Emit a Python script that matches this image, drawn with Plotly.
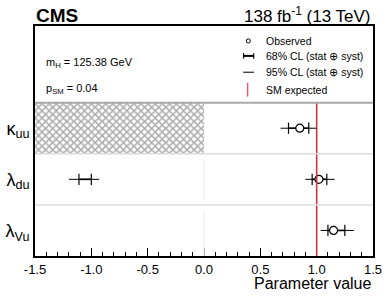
import plotly.graph_objects as go

# ---- data ----
param_labels = ["κ<sub>uu</sub>", "λ<sub>du</sub>", "λ<sub>Vu</sub>"]
row_pos = [2, 1, 0]
best_fit = [0.85, 1.02, 1.15]
lo68 = [0.75, 0.96, 1.10]
hi68 = [0.93, 1.09, 1.25]
lo95 = [0.68, 0.90, 1.035]
hi95 = [1.005, 1.16, 1.33]
# second (negative) λdu branch, no best-fit marker
neg_row = 1
neg_lo68, neg_hi68 = -1.11, -1.00
neg_lo95, neg_hi95 = -1.20, -0.93
# excluded region for κuu
excl_row = 2
excl_lo, excl_hi = -1.5, 0.0
sm_value = 1.0
x_ticks = [-1.5, -1.0, -0.5, 0.0, 0.5, 1.0, 1.5]

FONT = "Liberation Sans, Arial, Helvetica, sans-serif"
fig = go.Figure()

# hatched excluded region
fig.add_trace(go.Bar(
    y=[excl_row], x=[excl_hi - excl_lo], base=[excl_lo], orientation="h", width=1.0,
    marker=dict(color="white", line=dict(width=0),
                pattern=dict(shape="x", fgcolor="#5a5a5a", bgcolor="white", size=5, solidity=0.5)),
    showlegend=False, hoverinfo="skip"))

# 95% intervals
for y, a, b in list(zip(row_pos, lo95, hi95)) + [(neg_row, neg_lo95, neg_hi95)]:
    fig.add_trace(go.Scatter(x=[a, b], y=[y, y], mode="lines",
                             line=dict(color="black", width=1), showlegend=False))
# 68% intervals
for y, a, b in list(zip(row_pos, lo68, hi68)) + [(neg_row, neg_lo68, neg_hi68)]:
    fig.add_trace(go.Scatter(x=[a, b], y=[y, y], mode="lines+markers",
                             line=dict(color="black", width=1.6),
                             marker=dict(symbol="line-ns", size=8, line=dict(color="black", width=1.2)),
                             showlegend=False))
# best fit markers
fig.add_trace(go.Scatter(x=best_fit, y=row_pos, mode="markers",
                         marker=dict(symbol="circle", size=8, color="white",
                                     line=dict(color="black", width=1.2)),
                         showlegend=False))

shapes = []
# SM line
shapes.append(dict(type="line", xref="x", yref="y", x0=sm_value, x1=sm_value, y0=-0.5, y1=2.5,
                   line=dict(color="#d42a3c", width=1.5)))
# row separators
for yv, col, w in [(0.5, "#dcdcdc", 1.5), (1.5, "#dcdcdc", 1.5), (2.5, "#a8a8a8", 2)]:
    shapes.append(dict(type="line", xref="paper", yref="y", x0=0, x1=1, y0=yv, y1=yv,
                       line=dict(color=col, width=w)))
# faint zero lines
for y0, y1 in [(0.6, 1.38), (-0.5, 0.38)]:
    shapes.append(dict(type="line", xref="x", yref="y", x0=0, x1=0, y0=y0, y1=y1,
                       line=dict(color="#eef2f7", width=1.5)))

# legend icons (paper coords)
shapes.append(dict(type="circle", xref="paper", yref="paper", x0=0.625, x1=0.637, y0=0.926, y1=0.944,
                   line=dict(color="black", width=1), fillcolor="white"))
shapes.append(dict(type="line", xref="paper", yref="paper", x0=0.616, x1=0.648, y0=0.870, y1=0.870,
                   line=dict(color="black", width=2)))
for xv in (0.617, 0.647):
    shapes.append(dict(type="line", xref="paper", yref="paper", x0=xv, x1=xv, y0=0.858, y1=0.882,
                       line=dict(color="black", width=1.2)))
shapes.append(dict(type="line", xref="paper", yref="paper", x0=0.616, x1=0.648, y0=0.799, y1=0.799,
                   line=dict(color="black", width=1)))
shapes.append(dict(type="line", xref="paper", yref="paper", x0=0.629, x1=0.629, y0=0.693, y1=0.753,
                   line=dict(color="#e8606e", width=1.5)))

annotations = []
leg = [("Observed", 0.935), ("68% CL (stat ⊕ syst)", 0.870),
       ("95% CL (stat ⊕ syst)", 0.799), ("SM expected", 0.722)]
for txt, yv in leg:
    annotations.append(dict(text=txt, xref="paper", yref="paper", x=0.678, y=yv,
                            xanchor="left", yanchor="middle", showarrow=False,
                            font=dict(family=FONT, size=10.5, color="black")))
annotations.append(dict(text="m<sub>H</sub> = 125.38 GeV", xref="paper", yref="paper", x=0.028, y=0.838,
                        xanchor="left", yanchor="middle", showarrow=False,
                        font=dict(family=FONT, size=11, color="black")))
annotations.append(dict(text="p<sub>SM</sub> = 0.04", xref="paper", yref="paper", x=0.028, y=0.726,
                        xanchor="left", yanchor="middle", showarrow=False,
                        font=dict(family=FONT, size=11, color="black")))
annotations.append(dict(text="<b>CMS</b>", xref="paper", yref="paper", x=-0.003, y=1.0,
                        xanchor="left", yanchor="bottom", showarrow=False, yshift=-2,
                        font=dict(family=FONT, size=19, color="black")))
annotations.append(dict(text="138 fb<sup>-1</sup> (13 TeV)", xref="paper", yref="paper", x=1.0, y=1.0,
                        xanchor="right", yanchor="bottom", showarrow=False, yshift=-2,
                        font=dict(family=FONT, size=17, color="black")))
annotations.append(dict(text="Parameter value", xref="paper", yref="paper", x=1.0, y=0,
                        xanchor="right", yanchor="top", showarrow=False, yshift=-17,
                        font=dict(family=FONT, size=16, color="black")))

fig.update_layout(
    width=389, height=299, margin=dict(l=35, r=16, t=26, b=43),
    paper_bgcolor="white", plot_bgcolor="white",
    shapes=shapes, annotations=annotations, bargap=0,
    xaxis=dict(range=[-1.5, 1.5], tickvals=x_ticks, ticktext=[f"{v:.1f}" for v in x_ticks],
               ticks="inside", ticklen=8, tickwidth=1, tickcolor="black", automargin=False,
               ticklabeloverflow="allow",
               minor=dict(dtick=0.1, tick0=-1.5, ticks="inside", ticklen=4, tickcolor="black"),
               showgrid=False, zeroline=False, showline=True, linecolor="black", linewidth=2,
               mirror=True, tickfont=dict(family=FONT, size=13, color="black")),
    yaxis=dict(range=[-0.5, 4.0], tickvals=row_pos, ticktext=param_labels, ticks="",
               automargin=False, ticklabeloverflow="allow",
               showgrid=False, zeroline=False, showline=True, linecolor="black", linewidth=2,
               mirror=True, tickfont=dict(family=FONT, size=18, color="black")),
)

fig.write_html("out.html", config={"displayModeBar": False, "staticPlot": True},
               post_script="document.body.style.margin='0';document.body.style.padding='0';"
                           "document.body.style.overflow='hidden';")
